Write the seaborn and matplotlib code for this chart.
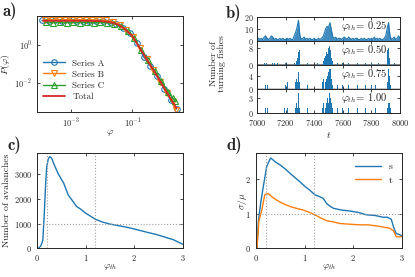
import numpy as np
import pandas as pd
import matplotlib
matplotlib.use("Agg")
import matplotlib.pyplot as plt
import seaborn as sns

# ---------------- data ----------------
# panel a (values stored as log10)
a_logx_A = [-3.94, -3.72, -3.50, -3.28, -3.06, -2.84, -2.62, -2.40, -2.18, -1.96, -1.74,
            -1.52, -1.30, -1.08, -0.86, -0.64, -0.42, -0.20, 0.02, 0.24, 0.43]
a_logy_A = [1.27, 1.26, 1.27, 1.26, 1.27, 1.26, 1.25, 1.26, 1.25, 1.22, 1.18,
            1.08, 0.88, 0.60, 0.10, -0.62, -1.10, -1.62, -2.28, -2.88, -3.35]
a_logx_B = [-3.84, -3.62, -3.40, -3.18, -2.96, -2.74, -2.52, -2.30, -2.08, -1.86, -1.64,
            -1.42, -1.20, -0.98, -0.76, -0.54, -0.32, -0.10, 0.12, 0.30, 0.40]
a_logy_B = [1.31, 1.30, 1.31, 1.30, 1.31, 1.30, 1.31, 1.30, 1.29, 1.27, 1.20,
            1.05, 0.78, 0.40, -0.17, -0.74, -1.32, -1.94, -2.50, -3.00, -3.38]
a_logx_C = [-3.80, -3.58, -3.36, -3.14, -2.92, -2.70, -2.48, -2.26, -2.04, -1.82, -1.60,
            -1.38, -1.16, -0.94, -0.72, -0.50, -0.28, -0.06, 0.16, 0.30, 0.38]
a_logy_C = [1.17, 1.16, 1.17, 1.16, 1.17, 1.16, 1.17, 1.16, 1.17, 1.15, 1.10,
            0.97, 0.72, 0.33, -0.25, -0.80, -1.35, -1.90, -2.45, -2.75, -2.95]
a_logx_T = [-3.90, -3.50, -3.00, -2.50, -2.00, -1.80, -1.60, -1.40, -1.20, -1.00, -0.80,
            -0.60, -0.40, -0.20, 0.00, 0.20, 0.43]
a_logy_T = [1.25, 1.25, 1.25, 1.25, 1.23, 1.20, 1.13, 1.00, 0.75, 0.45, -0.07,
            -0.59, -1.11, -1.63, -2.17, -2.70, -3.30]
a_series = ["Series A", "Series B", "Series C"]

# panel b
b_thresholds = ["0.25", "0.50", "0.75", "1.00"]
b1_t = list(range(7000, 8001, 10))
b1_n = [1, 2, 1, 2, 1, 3, 4, 2, 1, 2,
        4, 3, 1, 2, 1, 1, 2, 1, 2, 1,
        1, 2, 1, 2, 1, 1, 4, 7, 11, 17,
        4, 1, 2, 3, 1, 2, 1, 2, 1, 1,
        2, 1, 1, 2, 1, 2, 3, 6, 10, 12,
        11, 15, 9, 3, 2, 3, 1, 2, 2, 1,
        2, 3, 2, 1, 3, 2, 1, 2, 1, 2,
        2, 1, 1, 2, 1, 2, 1, 1, 2, 1,
        2, 1, 3, 1, 2, 1, 2, 1, 1, 2,
        4, 10, 15, 4, 1, 2, 3, 1, 2, 4, 2]
b2_t = [7050, 7065, 7110, 7125, 7140, 7200, 7265, 7275, 7282, 7288, 7294, 7300, 7350, 7420,
        7465, 7472, 7480, 7488, 7495, 7502, 7508, 7514, 7520, 7528, 7560, 7600, 7640, 7700,
        7760, 7800, 7850, 7915, 7921, 7928, 7960]
b2_n = [1, 1, 1, 1, 1, 1, 1, 2, 3, 6, 7, 3, 1, 1,
        2, 3, 4, 6, 5, 8, 9, 7, 3, 2, 1, 1, 1, 1,
        1, 1, 1, 7, 8, 3, 1]
b3_t = [7060, 7075, 7200, 7210, 7270, 7278, 7286, 7293, 7300, 7350, 7460, 7468, 7476, 7484,
        7492, 7500, 7508, 7515, 7522, 7530, 7560, 7600, 7640, 7700, 7760, 7800, 7830, 7915,
        7921, 7928, 7933]
b3_n = [1, 1, 1, 2, 2, 3, 2, 5, 2, 1, 2, 3, 2, 3,
        4, 5, 6, 6, 3, 1, 1, 1, 1, 1, 1, 1, 1, 2,
        6, 4, 1]
b4_t = [7060, 7075, 7195, 7210, 7270, 7278, 7286, 7292, 7300, 7350, 7460, 7468, 7476, 7484,
        7492, 7500, 7508, 7515, 7522, 7530, 7560, 7600, 7640, 7700, 7760, 7830, 7915, 7920,
        7926, 7932]
b4_n = [1, 1, 1, 1, 1, 2, 1, 4, 1, 1, 1, 2, 1, 2,
        3, 2, 4, 3, 2, 1, 1, 1, 1, 1, 1, 1, 1, 2,
        2, 1]
b_ylims = [20, 11.5, 7.3, 4.9]
b_yticks = [[0, 10, 20], [0, 8], [0, 4], [0, 3]]

# panel c
c_phi = [0.03, 0.08, 0.12, 0.15, 0.18, 0.20, 0.23, 0.26, 0.30, 0.35, 0.43, 0.50, 0.55, 0.64,
         0.72, 0.81, 0.90, 1.00, 1.10, 1.20, 1.35, 1.50, 1.60, 1.80, 1.94, 2.10, 2.28, 2.45,
         2.60, 2.80, 3.00]
c_count = [0, 100, 330, 1420, 2700, 3300, 3600, 3710, 3650, 3400, 3040, 2800, 2630, 2160,
           1950, 1700, 1580, 1420, 1300, 1175, 1060, 980, 945, 870, 810, 730, 640, 560,
           470, 350, 160]

# panel d
d_phi_s = [0.02, 0.05, 0.10, 0.15, 0.22, 0.30, 0.40, 0.49, 0.60, 0.70, 0.80, 0.90, 1.00, 1.10,
           1.21, 1.30, 1.38, 1.45, 1.52, 1.59, 1.75, 1.93, 2.10, 2.27, 2.45, 2.61, 2.70, 2.78,
           2.83, 2.88, 2.94, 3.00]
d_s = [0.0, 0.8, 1.35, 1.79, 2.37, 2.62, 2.50, 2.42, 2.30, 2.17, 2.05, 1.93, 1.80, 1.69,
       1.55, 1.50, 1.45, 1.30, 1.22, 1.16, 1.11, 1.08, 1.04, 0.97, 0.95, 0.90, 0.90, 0.84,
       0.60, 0.43, 0.40, 0.36]
d_phi_t = [0.02, 0.06, 0.12, 0.18, 0.25, 0.32, 0.42, 0.55, 0.70, 0.85, 0.97, 1.10, 1.21, 1.33,
           1.45, 1.60, 1.72, 1.90, 2.13, 2.30, 2.47, 2.60, 2.75, 2.83, 2.88, 2.94, 3.00]
d_t = [0.0, 0.80, 1.11, 1.55, 1.59, 1.50, 1.40, 1.30, 1.21, 1.15, 1.11, 1.04, 0.97, 0.88,
       0.80, 0.76, 0.72, 0.70, 0.68, 0.68, 0.65, 0.62, 0.58, 0.50, 0.34, 0.33, 0.34]

ref_vlines = [0.2, 1.2]
c_hline = 1000
d_hline = 1.0

# ---------------- style ----------------
sns.set_style("ticks")
plt.rcParams.update({
    "font.family": ["cmr10"],
    "mathtext.fontset": "cm",
    "axes.formatter.use_mathtext": True,
    "axes.unicode_minus": False,
    "font.size": 7,
    "axes.linewidth": 0.7,
    "xtick.direction": "in",
    "ytick.direction": "in",
    "xtick.top": True,
    "ytick.right": True,
    "xtick.major.size": 2.5,
    "ytick.major.size": 2.5,
    "xtick.major.width": 0.6,
    "ytick.major.width": 0.6,
    "xtick.labelsize": 6,
    "ytick.labelsize": 6,
    "axes.labelsize": 7,
})

BLUE, ORANGE, GREEN, RED = "#1f77b4", "#ff7f0e", "#2ca02c", "#d62728"
GRAY = "#a0a0a0"

fig = plt.figure(figsize=(4.15, 2.77), dpi=100)
W, H = 415.0, 277.0


def rect(x0, x1, ytop, ybot):
    return [x0 / W, 1 - ybot / H, (x1 - x0) / W, (ybot - ytop) / H]


# ---------------- panel a ----------------
axa = fig.add_axes(rect(37, 183, 16, 112))
dfa = pd.concat([
    pd.DataFrame({"x": np.power(10.0, a_logx_A), "y": np.power(10.0, a_logy_A), "s": a_series[0]}),
    pd.DataFrame({"x": np.power(10.0, a_logx_B), "y": np.power(10.0, a_logy_B), "s": a_series[1]}),
    pd.DataFrame({"x": np.power(10.0, a_logx_C), "y": np.power(10.0, a_logy_C), "s": a_series[2]}),
])
for name, col, mk in zip(a_series, [BLUE, ORANGE, GREEN], ["o", "v", "^"]):
    sub = dfa[dfa["s"] == name]
    sns.lineplot(data=sub, x="x", y="y", ax=axa, color=col, lw=1.0, marker=mk,
                 markersize=4, markerfacecolor="none", markeredgecolor=col,
                 markeredgewidth=0.8, label=name, sort=False)
sns.lineplot(x=np.power(10.0, a_logx_T), y=np.power(10.0, a_logy_T), ax=axa, color=RED,
             lw=1.3, label="Total", sort=False)
axa.set_xscale("log")
axa.set_yscale("log")
axa.set_xlim(10 ** -4.1, 10 ** 0.64)
axa.set_ylim(10 ** -3.5, 10 ** 1.5)
axa.set_xticks([1e-3, 1e-1])
axa.set_yticks([1e0, 1e-2])
axa.minorticks_off()
axa.set_xlabel(r"$\varphi$")
axa.set_ylabel(r"$P(\varphi)$")
axa.xaxis.set_label_coords(0.5, -0.165)
axa.yaxis.set_label_coords(-0.17, 0.5)
axa.legend(loc="lower left", frameon=False, fontsize=6.5, handlelength=2.4,
           labelspacing=0.3, borderaxespad=0.3, bbox_to_anchor=(0.0, 0.05))

# ---------------- panel b ----------------
b_top, b_bot = 16.7, 112.7
hstep = (b_bot - b_top) / 4
b_data = [(b1_t, b1_n), (b2_t, b2_n), (b3_t, b3_n), (b4_t, b4_n)]
b_axes = []
for i, ((tt, nn), thr, ylim, yt) in enumerate(zip(b_data, b_thresholds, b_ylims, b_yticks)):
    ax = fig.add_axes(rect(257, 400, b_top + i * hstep, b_top + (i + 1) * hstep))
    if i == 0:
        sns.lineplot(x=tt, y=nn, ax=ax, color=BLUE, lw=0.8)
        ax.fill_between(tt, nn, color=BLUE, alpha=0.85, lw=0)
    else:
        if i == 1:
            ax.axhline(0, color="#606060", lw=1.8, zorder=0)
        if i == 2:
            ax.axhline(0, color="#b8b8b8", lw=1.8, zorder=0)
        ax.bar(tt, nn, width=7, color=BLUE, lw=0)
    ax.set_xlim(7000, 8000)
    ax.set_ylim(0, ylim)
    ax.set_yticks(yt)
    ax.set_xticks([7000, 7200, 7400, 7600, 7800, 8000])
    ax.tick_params(axis="y", labelsize=5.8, pad=2)
    ax.set_ylabel("")
    ax.text(0.585, 0.62, r"$\varphi_{th}$= " + thr, transform=ax.transAxes,
            fontsize=7.6, ha="left", va="center")
    if i < 3:
        ax.tick_params(labelbottom=False)
    b_axes.append(ax)
b_axes[-1].set_xlabel(r"$t$")
b_axes[-1].xaxis.set_label_coords(0.5, -0.72)
fig.text(218 / W, 1 - 64 / H, "Number of\nturning fishes", rotation=90, ha="center",
         va="center", fontsize=7, linespacing=1.0)

# ---------------- panel c ----------------
axc = fig.add_axes(rect(37, 183, 152.7, 248.3))
sns.lineplot(x=c_phi, y=c_count, ax=axc, color=BLUE, lw=1.0)
for v in ref_vlines:
    axc.axvline(v, color=GRAY, lw=0.8, ls=":")
axc.axhline(c_hline, color=GRAY, lw=0.8, ls=":")
axc.set_xlim(0, 3)
axc.set_ylim(0, 3870)
axc.set_xticks([0, 1, 2, 3])
axc.set_yticks([0, 1000, 2000, 3000])
axc.set_xlabel(r"$\varphi_{th}$")
axc.set_ylabel("Number of avalanches")
axc.xaxis.set_label_coords(0.5, -0.14)
axc.yaxis.set_label_coords(-0.18, 0.5)

# ---------------- panel d ----------------
axd = fig.add_axes(rect(256, 402, 152.7, 248.3))
sns.lineplot(x=d_phi_s, y=d_s, ax=axd, color=BLUE, lw=1.0, label="s")
sns.lineplot(x=d_phi_t, y=d_t, ax=axd, color=ORANGE, lw=1.0, label="t")
for v in ref_vlines:
    axd.axvline(v, color=GRAY, lw=0.8, ls=":")
axd.axhline(d_hline, color=GRAY, lw=0.8, ls=":")
axd.set_xlim(0, 3)
axd.set_ylim(0, 2.77)
axd.set_xticks([0, 1, 2, 3])
axd.set_yticks([0, 1, 2])
axd.set_xlabel(r"$\varphi_{th}$")
axd.set_ylabel(r"$\sigma/\mu$")
axd.xaxis.set_label_coords(0.5, -0.14)
axd.yaxis.set_label_coords(-0.05, 0.5)
axd.legend(loc="upper right", frameon=False, fontsize=7, handlelength=2.6,
           labelspacing=0.5, borderaxespad=0.6)

# ---------------- panel letters ----------------
for lab, x, y in [("a)", 2, 2), ("b)", 226, 4), ("c)", 7, 136), ("d)", 226, 136)]:
    fig.text(x / W, 1 - y / H, lab, fontsize=12, family="cmb10", ha="left", va="top")

fig.savefig("out.png", dpi=100)
